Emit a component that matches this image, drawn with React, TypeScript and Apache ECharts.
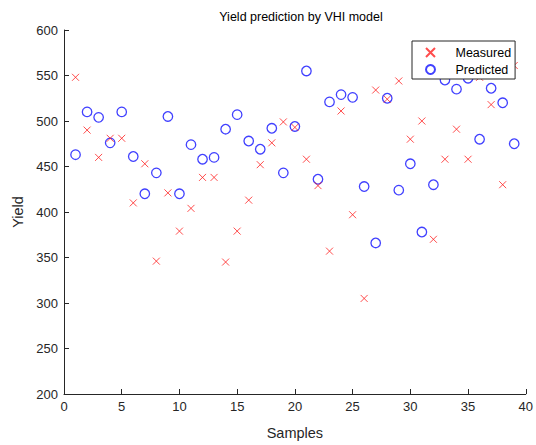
import React, { useEffect, useRef } from "react";
import * as echarts from "echarts";

const samples = [1,2,3,4,5,6,7,8,9,10,11,12,13,14,15,16,17,18,19,20,21,22,23,24,25,26,27,28,29,30,31,32,33,34,35,36,37,38,39];
const measured = [548,490,460,481,481,410,453,346,421,379,404,438,438,345,379,413,452,476,499,493,458,429,357,511,397,305,534,524,544,480,500,370,458,491,458,548,518,430,561];
const predicted = [463,510,504,476,510,461,420,443,505,420,474,458,460,491,507,478,469,492,443,494,555,436,521,529,526,428,366,525,424,453,378,430,545,535,547,480,536,520,475];

const titleText = "Yield prediction by VHI model";
const xName = "Samples";
const yName = "Yield";
const seriesNames = ["Measured", "Predicted"];

const FONT = "'Liberation Sans', Arial, Helvetica, sans-serif";
const AX = "#262626";

export default function App() {
  const ref = useRef<HTMLDivElement>(null);
  useEffect(() => {
    if (!ref.current) return;
    const chart = echarts.init(ref.current, undefined, { renderer: "svg" });
    chart.setOption({
      animation: false,
      backgroundColor: "#ffffff",
      textStyle: { fontFamily: FONT },
      title: {
        text: titleText,
        left: 296,
        top: 5,
        textAlign: "center",
        textStyle: { fontFamily: FONT, fontSize: 12.5, fontWeight: "normal", color: "#000" },
      },
      legend: {
        orient: "vertical",
        left: 412,
        top: 41,
        padding: [5, 4, 3, 13],
        itemGap: 4,
        itemWidth: 40,
        itemHeight: 9,
        backgroundColor: "#fff",
        borderColor: AX,
        borderWidth: 1,
        borderRadius: 0,
        textStyle: { fontFamily: FONT, fontSize: 12.5, color: "#000" },
        data: seriesNames,
      },
      grid: { left: 64, right: 8, top: 30, bottom: 47, containLabel: false },
      xAxis: {
        type: "value",
        min: 0,
        max: 40,
        interval: 5,
        name: xName,
        nameLocation: "middle",
        nameGap: 31,
        nameTextStyle: { fontFamily: FONT, fontSize: 14.5, color: AX },
        axisLine: { show: true, lineStyle: { color: AX, width: 1 } },
        axisTick: { show: true, inside: true, length: 5, lineStyle: { color: AX } },
        axisLabel: { fontFamily: FONT, fontSize: 13, color: AX, margin: 6 },
        splitLine: { show: false },
      },
      yAxis: {
        type: "value",
        min: 200,
        max: 600,
        interval: 50,
        name: yName,
        nameLocation: "middle",
        nameGap: 29,
        nameTextStyle: { fontFamily: FONT, fontSize: 14.5, color: AX },
        axisLine: { show: true, lineStyle: { color: AX, width: 1 } },
        axisTick: { show: true, inside: true, length: 5, lineStyle: { color: AX } },
        axisLabel: { fontFamily: FONT, fontSize: 13, color: AX, margin: 6 },
        splitLine: { show: false },
      },
      series: [
        {
          name: seriesNames[0],
          type: "scatter",
          data: samples.map((s, i) => [s, measured[i]]),
          symbol: "path://M0,0L10,10M10,0L0,10",
          symbolSize: 7,
          symbolKeepAspect: true,
          itemStyle: { color: "rgba(0,0,0,0)", borderColor: "#ff2020", borderWidth: 1 },
          z: 3,
        },
        {
          name: seriesNames[1],
          type: "scatter",
          data: samples.map((s, i) => [s, predicted[i]]),
          symbol: "circle",
          symbolSize: 9.5,
          symbolKeepAspect: true,
          itemStyle: { color: "rgba(0,0,0,0)", borderColor: "#1010ff", borderWidth: 1.3 },
          z: 2,
        },
      ],
    });
    return () => chart.dispose();
  }, []);
  return <div ref={ref} style={{ width: 536, height: 445, position: "absolute", left: 0, top: 0 }} />;
}
